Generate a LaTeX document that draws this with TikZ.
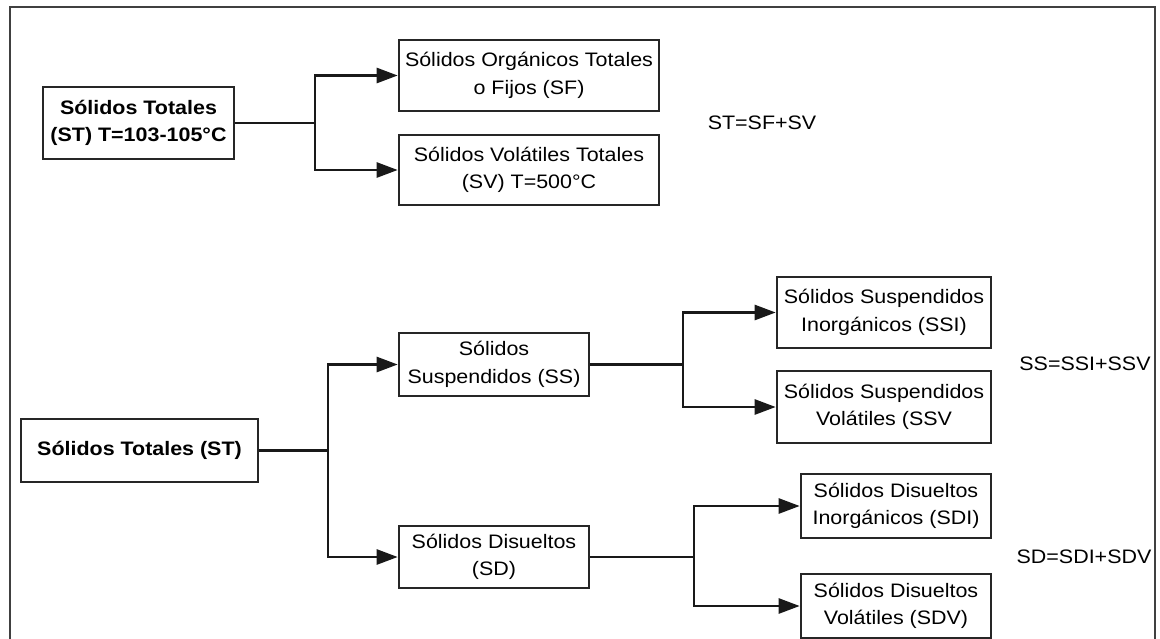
\documentclass[tikz,border=0pt]{standalone}
\usepackage{fontspec}
\setmainfont[FakeStretch=1.1]{Liberation Sans}
\usetikzlibrary{arrows.meta}
\tikzset{
  box/.style={draw=black!85, line width=2.6pt, align=center, inner sep=0pt, font=\fontsize{19.5}{27.5}\selectfont},
  bbox/.style={box, font=\fontsize{19.5}{27.5}\selectfont\bfseries},
  eq/.style={inner sep=0pt, font=\fontsize{19.5}{27.5}\selectfont},
  conn/.style={line width=2.6pt, draw=black!90},
  arr/.style={conn, -{Triangle[length=21pt,width=15pt]}},
}
\begin{document}
\begin{tikzpicture}[x=1pt,y=-1pt]
\useasboundingbox (0,0) rectangle (1160,638);
% outer frame
\draw[line width=1.8pt, draw=black!75] (10,640) -- (10,7) -- (1155,7) -- (1155,640);
% top diagram
\node[bbox, minimum width=191pt, minimum height=72pt] (st1) at (138.5,123) {Sólidos Totales\\(ST) T=103-105°C};
\node[box, minimum width=260pt, minimum height=71pt] (sf) at (529,75.5) {Sólidos Orgánicos Totales\\o Fijos (SF)};
\node[box, minimum width=260pt, minimum height=70pt] (sv) at (529,170) {Sólidos Volátiles Totales\\(SV) T=500°C};
\node[eq] (eq1) at (762,123) {ST=SF+SV};
\coordinate (j1) at (315,123);
\draw[conn] (st1.east) -- (j1);
\draw[arr] (j1) |- (sf.west);
\draw[arr] (j1) |- (sv.west);
% bottom diagram
\node[bbox, minimum width=237pt, minimum height=63pt] (st2) at (139.5,450.5) {Sólidos Totales (ST)};
\node[box, minimum width=190pt, minimum height=63pt] (ss) at (494,364.5) {Sólidos\\Suspendidos (SS)};
\node[box, minimum width=190pt, minimum height=62pt] (sd) at (494,557) {Sólidos Disueltos\\(SD)};
\node[box, minimum width=214pt, minimum height=71pt] (ssi) at (884,312.5) {Sólidos Suspendidos\\Inorgánicos (SSI)};
\node[box, minimum width=214pt, minimum height=72pt] (ssv) at (884,407) {Sólidos Suspendidos\\Volátiles (SSV};
\node[box, minimum width=190pt, minimum height=64pt] (sdi) at (896,506) {Sólidos Disueltos\\Inorgánicos (SDI)};
\node[box, minimum width=190pt, minimum height=64pt] (sdv) at (896,606) {Sólidos Disueltos\\Volátiles (SDV)};
\node[eq] (eq2) at (1085,364) {SS=SSI+SSV};
\node[eq] (eq3) at (1084,557) {SD=SDI+SDV};
\coordinate (j2) at (328,450.5);
\coordinate (j3) at (683,364.5);
\coordinate (j4) at (694,557);
\draw[conn] (st2.east) -- (j2);
\draw[arr] (j2) |- (ss.west);
\draw[arr] (j2) |- (sd.west);
\draw[conn] (ss.east) -- (j3);
\draw[arr] (j3) |- (ssi.west);
\draw[arr] (j3) |- (ssv.west);
\draw[conn] (sd.east) -- (j4);
\draw[arr] (j4) |- (sdi.west);
\draw[arr] (j4) |- (sdv.west);
\end{tikzpicture}
\end{document}
